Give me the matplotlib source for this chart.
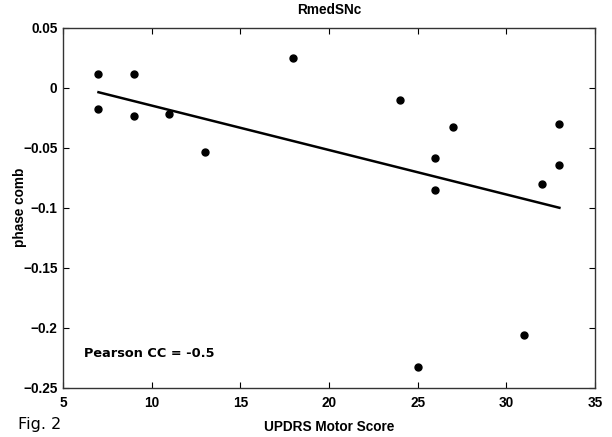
import matplotlib
matplotlib.use('Agg')
import matplotlib.pyplot as plt

# data
updrs = [7, 7, 9, 9, 11, 13, 18, 24, 25, 26, 26, 27, 31, 32, 33, 33]
phase = [0.0116, -0.0176, 0.0116, -0.0234, -0.0217, -0.0534, 0.0247, -0.0100,
         -0.2330, -0.0587, -0.0851, -0.0328, -0.2060, -0.0798, -0.0298, -0.0645]
fit_x = [7, 33]
fit_y = [-0.0036, -0.1000]

xticks = [5, 10, 15, 20, 25, 30, 35]
yticks = [-0.25, -0.2, -0.15, -0.1, -0.05, 0, 0.05]
yticklabels = ['\u22120.25', '\u22120.2', '\u22120.15', '\u22120.1', '\u22120.05', '0', '0.05']

tickfont = {'family': 'Liberation Sans', 'weight': 'bold', 'size': 9.8}

fig = plt.figure(figsize=(6.12, 4.37), dpi=100)
ax = fig.add_axes([0.103, 0.113, 0.869, 0.823])

ax.plot(updrs, phase, 'o', color='black', ms=5)
ax.plot(fit_x, fit_y, '-', color='black', lw=1.8)

ax.set_xlim(5, 35)
ax.set_ylim(-0.25, 0.05)
ax.set_xticks(xticks)
ax.set_xticklabels([str(t) for t in xticks], fontdict=tickfont)
ax.set_yticks(yticks)
ax.set_yticklabels(yticklabels, fontdict=tickfont)
ax.tick_params(direction='in', top=True, right=True, length=4, width=0.8, pad=4)
ax.tick_params(axis='x', pad=6)

for s in ax.spines.values():
    s.set_color('#333333')
    s.set_linewidth(1.0)

ax.set_title('RmedSNc', fontdict=tickfont, pad=10)
ax.set_xlabel('UPDRS Motor Score', fontdict=tickfont, labelpad=7)
ax.set_ylabel('phase comb', fontdict=tickfont)
ax.yaxis.set_label_coords(-0.068, 0.5)

ax.text(6.2, -0.2215, 'Pearson CC = -0.5', fontsize=9.3, fontweight='bold',
        family='DejaVu Sans', va='center')
fig.text(0.03, 0.018, 'Fig. 2', fontsize=11.5, family='DejaVu Sans')

plt.savefig('out.png', dpi=100)
